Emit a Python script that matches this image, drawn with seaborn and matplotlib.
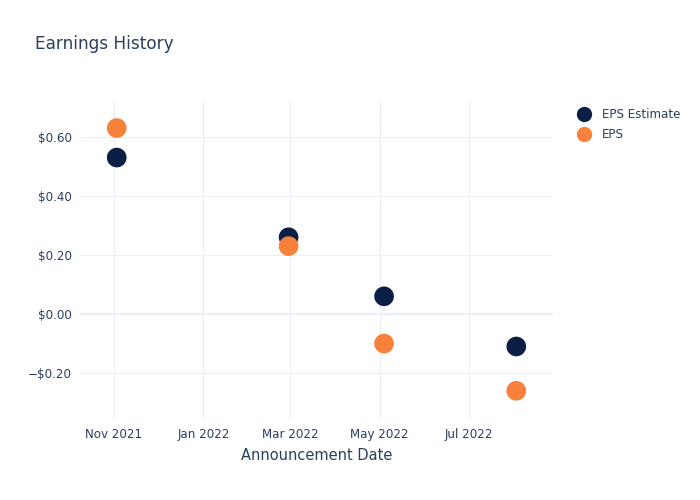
import matplotlib
matplotlib.use("Agg")
import matplotlib.pyplot as plt
import matplotlib.dates as mdates
import matplotlib.ticker as mticker
from matplotlib.lines import Line2D
import seaborn as sns
import pandas as pd

dates = ["2021-11-03", "2022-02-28", "2022-05-04", "2022-08-02"]
eps_estimate = [0.53, 0.26, 0.06, -0.11]
eps_actual = [0.63, 0.23, -0.10, -0.26]
series_names = ["EPS Estimate", "EPS"]
colors = ["#0b1f45", "#f7813a"]

df = pd.DataFrame({
    "date": pd.to_datetime(dates * 2),
    "value": eps_estimate + eps_actual,
    "series": [series_names[0]] * len(dates) + [series_names[1]] * len(dates),
})

sns.set_style("white")
plt.rcParams['font.family'] = ['DejaVu Sans']
text_color = "#2a3f5f"
grid_color = "#ebf0f8"

fig = plt.figure(figsize=(7, 5), dpi=100)
ax = fig.add_axes([80/700, 1-420/500, (553-80)/700, (420-100)/500])

sns.scatterplot(data=df, x="date", y="value", hue="series", palette=colors,
                s=200, linewidth=0, edgecolor="none", ax=ax, zorder=3, legend=False)

ax.set_xlim(pd.Timestamp("2021-10-09"), pd.Timestamp("2022-08-27"))
ax.set_ylim(-0.359, 0.725)

ax.xaxis.set_major_locator(mdates.MonthLocator(bymonth=[1, 3, 5, 7, 9, 11]))
ax.xaxis.set_major_formatter(mdates.DateFormatter("%b %Y"))
ax.yaxis.set_major_locator(mticker.MultipleLocator(0.2))
ax.yaxis.set_major_formatter(mticker.FuncFormatter(
    lambda v, p: ("\u2212$%.2f" % abs(v)) if v < -1e-9 else "$%.2f" % abs(v)))

ax.grid(True, color=grid_color, linewidth=0.8, zorder=0)
ax.axhline(0, color=grid_color, linewidth=1.6, zorder=1)
for s in ax.spines.values():
    s.set_visible(False)
ax.tick_params(axis="both", length=0, labelsize=8.6, colors=text_color, pad=6)
ax.set_xlabel("Announcement Date", fontsize=10.5, color=text_color, labelpad=5)
ax.set_ylabel("")

fig.text(35/700, 1-44/500, "Earnings History", fontsize=12.2, color=text_color,
         va="center", ha="left")

handles = [Line2D([0], [0], marker="o", linestyle="none", markersize=11,
                  markerfacecolor=c, markeredgecolor="none") for c in colors]
leg = fig.legend(handles, series_names, loc="upper left",
                 bbox_to_anchor=(572/700, 1-103/500), frameon=False,
                 fontsize=8.6, handletextpad=0.9, labelspacing=0.6,
                 borderaxespad=0, handlelength=1.2)
for t in leg.get_texts():
    t.set_color(text_color)

fig.savefig("out.png", dpi=100)
